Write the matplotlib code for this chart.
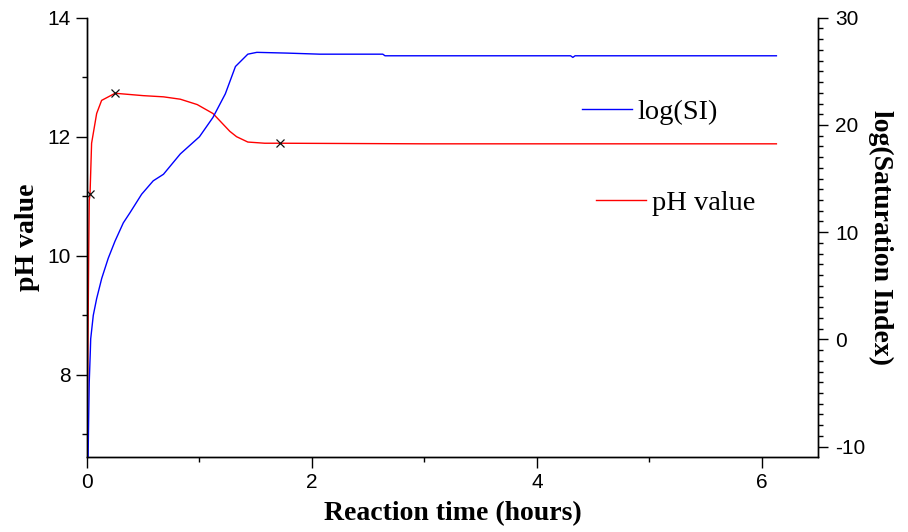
import matplotlib
matplotlib.use("Agg")
import matplotlib.pyplot as plt
from matplotlib.ticker import MultipleLocator

plt.rcParams["axes.unicode_minus"] = False

# data
ph_time = [0.0, 0.005, 0.015, 0.02, 0.027, 0.041, 0.086, 0.13, 0.25, 0.5, 0.68,
           0.83, 0.98, 1.12, 1.27, 1.33, 1.43, 1.58, 1.72, 3.0, 4.5, 6.13]
ph_value = [6.62, 7.6, 10.0, 10.93, 11.03, 11.89, 12.39, 12.61, 12.73, 12.69, 12.67,
            12.63, 12.54, 12.39, 12.09, 12.0, 11.91, 11.89, 11.89, 11.88, 11.88, 11.88]
ph_mark_time = [0.027, 0.25, 1.72]
ph_mark_value = [11.03, 12.73, 11.89]

si_time = [0.01, 0.015, 0.02, 0.03, 0.033, 0.056, 0.086, 0.131, 0.189, 0.249, 0.323,
           0.382, 0.486, 0.589, 0.68, 0.83, 1.0, 1.12, 1.23, 1.32, 1.43, 1.51,
           1.78, 2.07, 2.63, 2.65, 4.3, 4.32, 4.34, 6.13]
si_value = [-11.0, -7.3, -4.0, -1.0, 0.05, 2.25, 3.81, 5.69, 7.57, 9.16, 10.87,
            11.81, 13.54, 14.79, 15.4, 17.3, 18.9, 20.7, 22.9, 25.45, 26.6, 26.77,
            26.7, 26.6, 26.6, 26.45, 26.45, 26.3, 26.45, 26.45]

serif = "Liberation Serif"
sans = "Liberation Sans"

fig = plt.figure(figsize=(9.08, 5.32), dpi=100)
ax = fig.add_axes([0.0958, 0.1415, 0.8051, 0.8252])
ax2 = ax.twinx()

red_line, = ax.plot(ph_time, ph_value, color="#ff0000", lw=1.0)
ax.plot(ph_mark_time, ph_mark_value, ls="none", marker="x", color="#111111",
        ms=6, mew=0.9, zorder=5)
blue_line, = ax2.plot(si_time, si_value, color="#0000ff", lw=1.0)

ax.set_xlim(0, 6.5)
ax.set_ylim(6.62, 14)
ax2.set_ylim(-10.94, 30)

ax.xaxis.set_major_locator(MultipleLocator(2))
ax.xaxis.set_minor_locator(MultipleLocator(1))
ax.yaxis.set_major_locator(MultipleLocator(2))
ax.yaxis.set_minor_locator(MultipleLocator(1))
ax2.yaxis.set_major_locator(MultipleLocator(10))
ax2.yaxis.set_minor_locator(MultipleLocator(1))

for a in (ax, ax2):
    a.spines["top"].set_visible(False)
    for s in a.spines.values():
        s.set_linewidth(1.0)
ax.tick_params(which="major", length=8, width=1.0, labelsize=15, pad=4)
ax.tick_params(which="minor", length=3.5, width=1.0)
ax2.tick_params(which="major", length=7.5, width=1.0, labelsize=15, pad=5)
ax2.tick_params(which="minor", length=3.5, width=1.0)
for lab in ax.get_xticklabels() + ax.get_yticklabels() + ax2.get_yticklabels():
    lab.set_fontfamily(sans)

ax.set_xlabel("Reaction time (hours)", fontfamily=serif, fontweight="bold",
              fontsize=20, labelpad=6)
ax.set_ylabel("pH value", fontfamily=serif, fontweight="bold", fontsize=20,
              labelpad=5)
ax2.set_ylabel("log(Saturation Index)", fontfamily=serif, fontweight="bold",
               fontsize=20, rotation=270, labelpad=20)

leg1 = ax2.legend([blue_line], ["log(SI)"], loc="center left",
                  bbox_to_anchor=(0.641, 0.7895), bbox_transform=fig.transFigure,
                  frameon=False, borderpad=0, borderaxespad=0,
                  handlelength=1.75, handletextpad=0.2,
                  prop={"family": serif, "size": 20.5})
ax2.add_artist(leg1)
ax2.legend([red_line], ["pH value"], loc="center left",
           bbox_to_anchor=(0.6564, 0.6184), bbox_transform=fig.transFigure,
           frameon=False, borderpad=0, borderaxespad=0,
           handlelength=1.75, handletextpad=0.2,
           prop={"family": serif, "size": 20.5})

fig.savefig("out.png", dpi=100)
